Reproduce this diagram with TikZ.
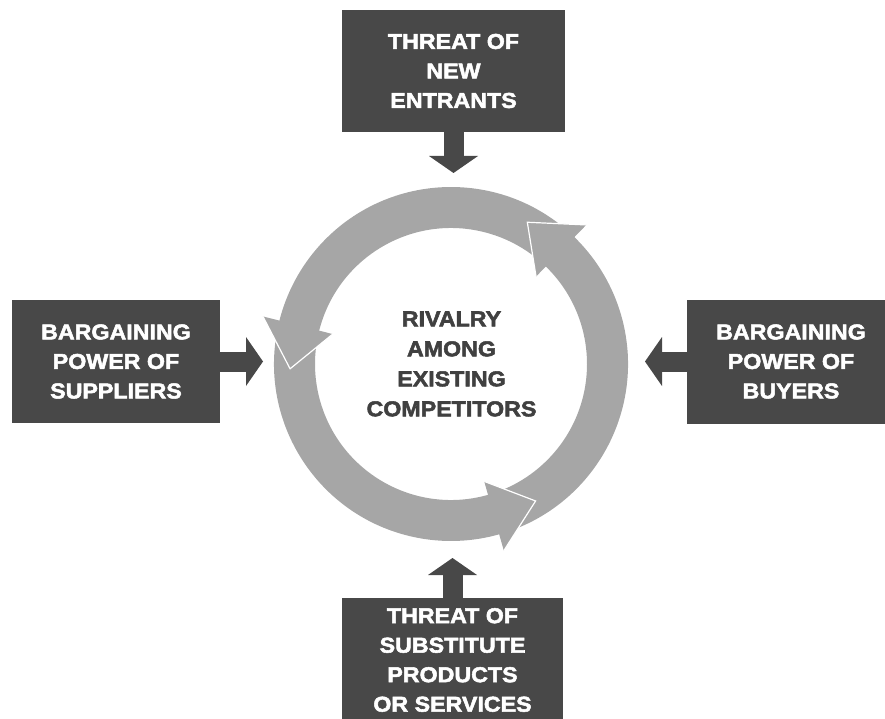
\documentclass[tikz,border=0pt]{standalone}
\usepackage{fontspec}
\usetikzlibrary{arrows.meta,calc}
\newfontfamily\heavy{Liberation Sans Bold}[FakeStretch=1.08,FakeBold=2.4]
\definecolor{boxgray}{RGB}{72,72,72}
\definecolor{ringgray}{RGB}{166,166,166}
\definecolor{centergray}{RGB}{64,64,64}
\begin{document}
\begin{tikzpicture}[x=1pt,y=1pt,
  forcebox/.style={rectangle, fill=boxgray, text=white, align=center, inner sep=0pt,
    font=\heavy\fontsize{21.5}{29.5}\selectfont},
  centertext/.style={align=center, inner sep=0pt, text=centergray,
    font=\heavy\fontsize{21.5}{30}\selectfont},
  conn/.style={draw=boxgray, line width=20pt,
    -{Triangle[length=17pt,width=49pt,line width=0pt]}},
  ring/.style={fill=ringgray},
  headedge/.style={draw=white, line width=1.2pt, line join=miter}
]
\useasboundingbox (0,0) rectangle (885,-719);
\clip (0,0) rectangle (885,-719);

% boxes
\node[forcebox, minimum width=223pt, minimum height=122pt] (entrants) at (453.5,-71) {THREAT OF\\NEW\\ENTRANTS};
\node[forcebox, minimum width=208pt, minimum height=123pt] (suppliers) at (116,-361.5) {BARGAINING\\POWER OF\\SUPPLIERS};
\node[forcebox, minimum width=208pt, minimum height=124pt] (buyers) at (791,-361.5) {BARGAINING\\POWER OF\\BUYERS};
\node[forcebox, minimum width=221pt, minimum height=124pt] (substitutes) at (452.5,-660) {THREAT OF\\SUBSTITUTE\\PRODUCTS\\OR SERVICES};

% ring of three circular arrows
\coordinate (C) at (451,-364);
\foreach \e in {45.8,165.8,285.8} {
  \pgfmathsetmacro\s{\e-118}
  \pgfmathsetmacro\f{\e+0.5}
  \fill[ring] ($(C)+(\s:177pt)$) arc[start angle=\s, end angle=\f, radius=177pt]
    -- ($(C)+(\f:136pt)$) arc[start angle=\f, end angle=\s, radius=136pt] -- cycle;
}
\foreach \e in {45.8,165.8,285.8} {
  \pgfmathsetmacro\t{\e+15.9}
  \fill[ring] ($(C)+(\e:122pt)$) -- ($(C)+(\e:194pt)$) -- ($(C)+(\t:161pt)$) -- cycle;
  \draw[headedge] ($(C)+(\e:194pt)$) -- ($(C)+(\t:161pt)$) -- ($(C)+(\e:122pt)$);
}

\node[centertext] (rivalry) at (451.5,-364) {RIVALRY\\AMONG\\EXISTING\\COMPETITORS};

% connectors
\coordinate (tipT) at (453.5,-173);
\coordinate (tipL) at (263,-361.5);
\coordinate (tipR) at (645,-361.5);
\coordinate (tipB) at (452.5,-558);
\draw[conn] (entrants.south) -- (tipT);
\draw[conn] (suppliers.east) -- (tipL);
\draw[conn] (buyers.west) -- (tipR);
\draw[conn] (substitutes.north) -- (tipB);
\end{tikzpicture}
\end{document}
